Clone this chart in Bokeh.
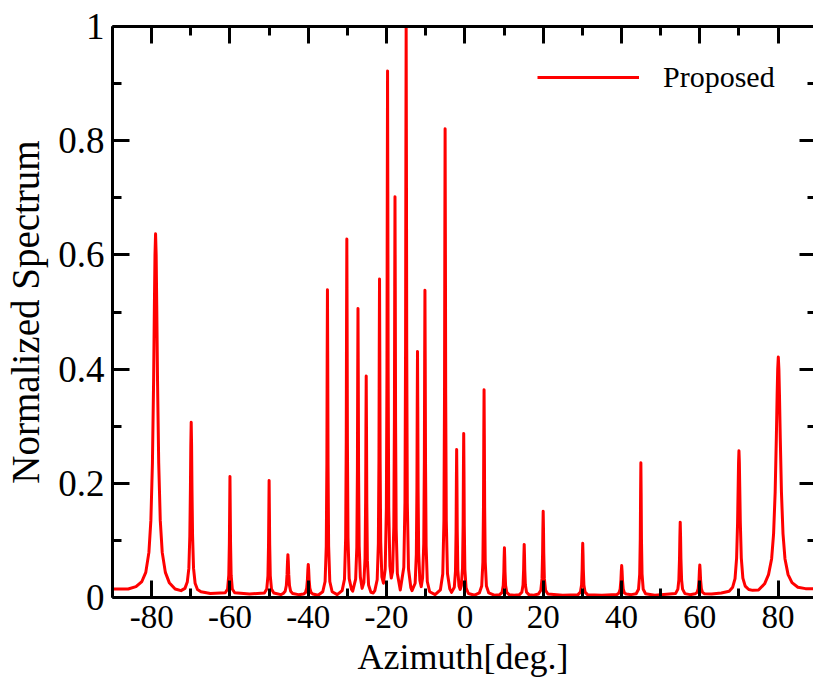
from bokeh.plotting import figure
from bokeh.models import (Range1d, LinearAxis, FixedTicker, Legend, LegendItem,
                          ColumnDataSource)
from bokeh.embed import file_html
from bokeh.resources import INLINE

# ---------------- data ----------------
azimuth = (
    [-90, -87, -86, -84, -82.5, -81.5, -80.7, -80.2, -79.8, -79.5, -79.3, -79.15]
    + [-79.0, -78.85, -78.7, -78.5, -78.2, -77.8, -77.3, -76.5, -75.5, -74.0, -72.5]
    + [-71.5, -70.9, -70.5, -70.25, -70.1, -70.0, -69.9, -69.8, -69.7, -69.55, -69.3, -68.9, -68.3, -67.4, -65.0]
    + [-61.2, -60.6, -60.3, -60.15, -60.0, -59.85, -59.7, -59.4, -58.8, -55.0]
    + [-51.2, -50.6, -50.3, -50.15, -50.0, -49.85, -49.7, -49.4, -48.8, -47.0]
    + [-46.4, -45.9, -45.6, -45.42, -45.3, -45.2, -45.1, -44.98, -44.8, -44.5, -44.0, -42.5]
    + [-41.2, -40.7, -40.4, -40.22, -40.1, -40.0, -39.9, -39.78, -39.6, -39.3, -38.8, -37.5]
    + [-36.3, -35.7, -35.4, -35.25, -35.17, -35.1, -35.03, -34.95, -34.8, -34.5, -33.9, -32.6]
    + [-31.35, -30.75, -30.45, -30.3, -30.22, -30.15, -30.08, -30.0, -29.85, -29.55, -28.95, -28.65]
    + [-27.9, -27.6, -27.45, -27.37, -27.3, -27.23, -27.15, -27.0, -26.7, -26.25]
    + [-25.8, -25.5, -25.35, -25.27, -25.2, -25.13, -25.05, -24.9, -24.6, -24.0, -23.4]
    + [-23.0, -22.4, -22.1, -21.95, -21.87, -21.8, -21.73, -21.65, -21.5, -21.2, -20.8]
    + [-20.35, -20.05, -19.9, -19.82, -19.75, -19.68, -19.6, -19.45, -19.15, -18.8]
    + [-18.45, -18.15, -18.0, -17.92, -17.85, -17.78, -17.7, -17.55, -17.25, -16.5]
    + [-15.6, -15.3, -15.15, -15.07, -15.0, -14.93, -14.85, -14.7, -14.4, -13.8, -13.5]
    + [-12.7, -12.4, -12.25, -12.17, -12.1, -12.03, -11.95, -11.8, -11.5, -11.15]
    + [-10.8, -10.5, -10.35, -10.27, -10.2, -10.13, -10.05, -9.9, -9.6, -9.0, -7.6]
    + [-6.25, -5.65, -5.35, -5.2, -5.12, -5.05, -4.98, -4.9, -4.75, -4.45, -3.85, -3.4]
    + [-2.7, -2.4, -2.25, -2.17, -2.1, -2.03, -1.95, -1.8, -1.5, -1.2]
    + [-0.9, -0.6, -0.45, -0.37, -0.3, -0.23, -0.15, 0.0, 0.3, 0.9, 2.5]
    + [3.7, 4.3, 4.6, 4.75, 4.83, 4.9, 4.97, 5.05, 5.2, 5.5, 6.1, 7.5]
    + [8.9, 9.5, 9.8, 9.95, 10.02, 10.1, 10.18, 10.25, 10.4, 10.7, 11.3, 12.6]
    + [13.95, 14.55, 14.85, 15.0, 15.07, 15.15, 15.23, 15.3, 15.45, 15.75, 16.35, 17.6]
    + [18.8, 19.4, 19.7, 19.85, 19.92, 20.0, 20.08, 20.15, 20.3, 20.6, 21.2, 25.0]
    + [28.9, 29.5, 29.8, 29.95, 30.02, 30.1, 30.18, 30.25, 30.4, 30.7, 31.3, 35.0]
    + [38.85, 39.35, 39.65, 39.85, 39.95, 40.05, 40.15, 40.25, 40.45, 40.75, 41.25, 42.5]
    + [43.75, 44.35, 44.65, 44.8, 44.88, 44.95, 45.02, 45.1, 45.25, 45.55, 46.15, 48.5]
    + [53.8, 54.4, 54.65, 54.82, 54.91, 55.0, 55.09, 55.18, 55.35, 55.6, 56.2, 57.5]
    + [58.8, 59.3, 59.6, 59.8, 59.9, 60.0, 60.1, 60.2, 60.4, 60.7, 61.2, 63.0]
    + [65.5, 67.5, 68.4, 69.0, 69.4, 69.65, 69.8, 69.9, 70.0, 70.1, 70.2, 70.35, 70.6, 71.0, 71.6, 72.5, 73.5]
    + [75.0, 76.55, 77.55, 78.35, 78.85, 79.25, 79.55, 79.75, 79.9, 80.05, 80.2, 80.35, 80.55, 80.85, 81.25, 81.75, 82.55, 83.55, 85.05, 87.0, 89.5]
)

spectrum = (
    [0.015, 0.015, 0.015, 0.019, 0.028, 0.044, 0.079, 0.135, 0.236, 0.380, 0.512, 0.600]
    + [0.637, 0.600, 0.512, 0.380, 0.236, 0.135, 0.079, 0.044, 0.026, 0.015, 0.012]
    + [0.016, 0.027, 0.051, 0.108, 0.190, 0.266, 0.307, 0.266, 0.190, 0.108, 0.051, 0.025, 0.014, 0.010, 0.007]
    + [0.0084, 0.015, 0.039, 0.095, 0.212, 0.095, 0.039, 0.015, 0.0084, 0.006]
    + [0.008, 0.015, 0.038, 0.092, 0.205, 0.092, 0.038, 0.015, 0.008, 0.005]
    + [0.007, 0.011, 0.021, 0.040, 0.063, 0.075, 0.063, 0.040, 0.021, 0.011, 0.007, 0.005]
    + [0.006, 0.0088, 0.0164, 0.031, 0.049, 0.058, 0.049, 0.031, 0.0164, 0.0088, 0.006, 0.004]
    + [0.010, 0.028, 0.090, 0.234, 0.419, 0.539, 0.419, 0.234, 0.090, 0.028, 0.010, 0.005]
    + [0.012, 0.032, 0.104, 0.271, 0.486, 0.628, 0.486, 0.271, 0.104, 0.033, 0.014, 0.011]
    + [0.032, 0.088, 0.220, 0.390, 0.506, 0.390, 0.220, 0.090, 0.036, 0.016]
    + [0.026, 0.068, 0.169, 0.298, 0.388, 0.298, 0.167, 0.065, 0.022, 0.009, 0.008]
    + [0.012, 0.031, 0.094, 0.242, 0.432, 0.558, 0.432, 0.245, 0.098, 0.036, 0.025]
    + [0.050, 0.157, 0.400, 0.710, 0.922, 0.710, 0.400, 0.157, 0.055, 0.034]
    + [0.046, 0.125, 0.310, 0.545, 0.702, 0.545, 0.310, 0.120, 0.042, 0.013]
    + [0.053, 0.168, 0.435, 0.775, 1.0, 0.775, 0.435, 0.165, 0.050, 0.017, 0.012]
    + [0.025, 0.075, 0.190, 0.335, 0.431, 0.335, 0.190, 0.078, 0.030, 0.019]
    + [0.034, 0.095, 0.238, 0.420, 0.538, 0.420, 0.235, 0.090, 0.028, 0.010, 0.005]
    + [0.0135, 0.041, 0.135, 0.355, 0.636, 0.821, 0.636, 0.355, 0.135, 0.042, 0.015, 0.009]
    + [0.018, 0.046, 0.115, 0.202, 0.259, 0.205, 0.118, 0.048, 0.020, 0.014]
    + [0.021, 0.052, 0.127, 0.223, 0.287, 0.223, 0.125, 0.049, 0.017, 0.007, 0.004]
    + [0.008, 0.020, 0.062, 0.159, 0.283, 0.364, 0.283, 0.159, 0.062, 0.020, 0.008, 0.004]
    + [0.005, 0.009, 0.021, 0.0455, 0.069, 0.087, 0.069, 0.0455, 0.021, 0.009, 0.005, 0.004]
    + [0.005, 0.0093, 0.022, 0.0485, 0.073, 0.093, 0.073, 0.0485, 0.022, 0.0093, 0.005, 0.004]
    + [0.006, 0.0127, 0.033, 0.0775, 0.119, 0.151, 0.119, 0.0775, 0.033, 0.0127, 0.006, 0.004]
    + [0.005, 0.0094, 0.022, 0.0495, 0.075, 0.095, 0.075, 0.0495, 0.022, 0.0094, 0.005, 0.004]
    + [0.0054, 0.0079, 0.0144, 0.030, 0.0456, 0.056, 0.0456, 0.030, 0.0144, 0.0079, 0.006, 0.005]
    + [0.0067, 0.0144, 0.041, 0.103, 0.183, 0.236, 0.183, 0.103, 0.041, 0.0144, 0.0067, 0.004]
    + [0.0068, 0.0146, 0.031, 0.068, 0.106, 0.132, 0.106, 0.068, 0.031, 0.0146, 0.0068, 0.005]
    + [0.0064, 0.009, 0.0154, 0.031, 0.0466, 0.057, 0.0466, 0.031, 0.0154, 0.009, 0.0066, 0.006]
    + [0.008, 0.011, 0.018, 0.033, 0.069, 0.131, 0.194, 0.237, 0.257, 0.237, 0.194, 0.131, 0.069, 0.034, 0.020, 0.014, 0.0125]
    + [0.013, 0.024, 0.040, 0.068, 0.112, 0.185, 0.280, 0.354, 0.400, 0.421, 0.400, 0.354, 0.280, 0.185, 0.112, 0.068, 0.040, 0.026, 0.018, 0.0155, 0.015]
)

series_name = "Proposed"
x_title = "Azimuth[deg.]"
y_title = "Normalized Spectrum"

x_ticks = [-80, -60, -40, -20, 0, 20, 40, 60, 80]
x_minor_ticks = [-90, -70, -50, -30, -10, 10, 30, 50, 70, 90]
x_tick_labels = ["-80", "-60", "-40", "-20", "0", "20", "40", "60", "80"]
y_ticks = [0, 0.2, 0.4, 0.6, 0.8, 1.0]
y_minor_ticks = [0.1, 0.3, 0.5, 0.7, 0.9]
y_tick_labels = ["0", "0.2", "0.4", "0.6", "0.8", "1"]

# ---------------- figure ----------------
FONT = "Liberation Serif"

p = figure(width=813, height=689,
           x_range=Range1d(-90, 89.04), y_range=Range1d(0, 1),
           output_backend="svg", toolbar_location=None,
           x_axis_location=None, y_axis_location=None,
           min_border_left=112, min_border_right=0,
           min_border_top=26, min_border_bottom=92)
p.outline_line_color = None
p.xgrid.visible = False
p.ygrid.visible = False
p.background_fill_color = "white"
p.border_fill_color = "white"

src = ColumnDataSource(data=dict(azimuth=azimuth, spectrum=spectrum))
r = p.line(x="azimuth", y="spectrum", source=src, line_color="#ff0000",
           line_width=3, line_join="round")


def style_axis(ax, major_in, minor_in):
    ax.major_tick_in = major_in
    ax.major_tick_out = 0
    ax.minor_tick_in = minor_in
    ax.minor_tick_out = 0
    ax.major_tick_line_width = 3
    ax.minor_tick_line_width = 3
    ax.major_tick_line_color = "black"
    ax.minor_tick_line_color = "black"
    ax.axis_line_width = 3
    ax.axis_line_color = "black"
    ax.major_label_text_font = FONT
    ax.major_label_text_font_style = "normal"
    ax.major_label_text_color = "black"
    ax.axis_label_text_font = FONT
    ax.axis_label_text_font_style = "normal"
    ax.axis_label_text_color = "black"


xb = LinearAxis(ticker=FixedTicker(ticks=x_ticks, minor_ticks=x_minor_ticks),
                major_label_overrides=dict(zip(x_ticks, x_tick_labels)),
                axis_label=x_title)
style_axis(xb, 17, 9)
xb.major_label_text_font_size = "33px"
xb.major_label_standoff = 8
xb.axis_label_text_font_size = "36px"
xb.axis_label_standoff = 6
p.add_layout(xb, "below")

yl = LinearAxis(ticker=FixedTicker(ticks=y_ticks, minor_ticks=y_minor_ticks),
                major_label_overrides=dict(zip(y_ticks, y_tick_labels)),
                axis_label=y_title)
style_axis(yl, 17, 9)
yl.major_label_text_font_size = "37px"
yl.major_label_standoff = 8
yl.axis_label_text_font_size = "39px"
yl.axis_label_standoff = 8
p.add_layout(yl, "left")

xt = LinearAxis(ticker=FixedTicker(ticks=x_ticks, minor_ticks=x_minor_ticks),
                major_label_overrides={t: "" for t in x_ticks})
style_axis(xt, 17, 9)
xt.major_label_standoff = 0
p.add_layout(xt, "above")

yr = LinearAxis(ticker=FixedTicker(ticks=y_ticks, minor_ticks=y_minor_ticks),
                major_label_overrides={t: "" for t in y_ticks})
style_axis(yr, 14, 6)
yr.axis_line_color = None
yr.major_label_standoff = 0
p.add_layout(yr, "right")

legend = Legend(items=[LegendItem(label=series_name, renderers=[r])],
                location=(425, 503), orientation="vertical",
                padding=0, spacing=0, margin=0,
                glyph_width=102, glyph_height=30, label_height=30,
                label_standoff=24,
                border_line_color=None, background_fill_alpha=0,
                label_text_font=FONT, label_text_font_size="30px",
                label_text_color="black")
p.add_layout(legend)

open("out.html", "w").write(file_html(p, INLINE))
